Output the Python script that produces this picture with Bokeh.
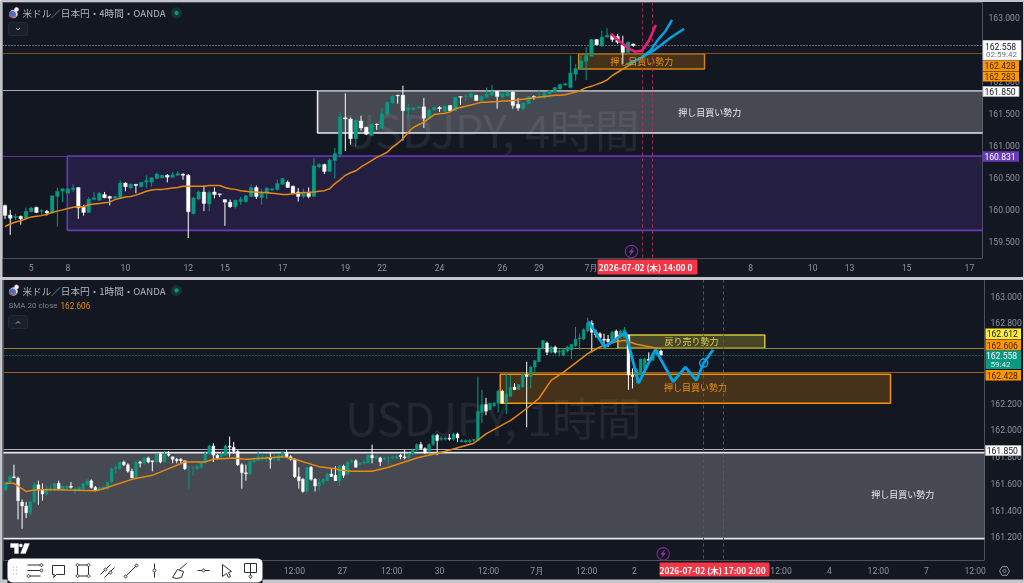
import math
from bokeh.core.properties import value
from bokeh.embed import file_html
from bokeh.layouts import column, row
from bokeh.models import (ColumnDataSource, FixedTicker, Label,
                          NumeralTickFormatter, Range1d)
from bokeh.plotting import figure
from bokeh.resources import INLINE

# ---------- 4H pane data ----------
o4 = [160.06,159.91,159.87,159.89,159.86,159.96,160.03,159.97,159.97,159.94,160.20,160.28,160.25,160.31,160.34,160.03,159.95,160.15,160.14,160.23,
      160.20,160.17,160.18,160.41,160.33,160.39,160.35,160.42,160.42,160.48,160.49,160.53,160.50,160.53,160.55,160.53,159.93,160.16,160.27,160.08,
      160.27,160.24,160.15,160.11,160.04,160.12,160.12,160.20,160.34,160.18,160.24,160.30,160.31,160.39,160.42,160.36,160.27,160.20,160.25,160.20,
      160.66,160.70,160.59,160.76,160.86,161.43,161.41,161.10,161.38,161.28,161.15,161.33,161.26,161.48,161.66,161.78,161.78,161.55,161.56,161.58,
      161.60,161.42,161.55,161.59,161.53,161.62,161.54,161.76,161.76,161.75,161.78,161.70,161.75,161.78,161.84,161.75,161.77,161.83,161.64,161.57,
      161.65,161.76,161.74,161.74,161.80,161.83,161.88,161.94,161.90,162.11,162.19,162.31,162.39,162.65,162.55,162.69,162.72,162.70,162.57,162.45,162.58]
c4 = [159.90,159.86,159.89,159.85,159.97,160.02,159.95,159.98,159.94,160.21,160.28,160.32,160.32,160.33,160.02,159.95,160.16,160.18,160.25,160.18,
      160.17,160.20,160.41,160.35,160.39,160.37,160.42,160.45,160.49,160.55,160.53,160.50,160.54,160.56,160.53,159.96,160.18,160.27,160.09,160.26,
      160.23,160.23,160.11,160.04,160.14,160.15,160.21,160.34,160.20,160.27,160.33,160.32,160.40,160.48,160.34,160.25,160.20,160.25,160.20,160.68,
      160.70,160.59,160.77,160.87,161.44,161.41,161.10,161.39,161.27,161.17,161.33,161.32,161.49,161.67,161.77,161.77,161.54,161.59,161.58,161.60,
      161.42,161.55,161.59,161.57,161.61,161.54,161.75,161.75,161.77,161.81,161.70,161.76,161.80,161.83,161.76,161.81,161.83,161.62,161.58,161.66,
      161.76,161.75,161.76,161.82,161.85,161.90,161.95,161.96,162.13,162.20,162.32,162.40,162.65,162.57,162.69,162.72,162.65,162.61,162.45,162.61,162.558]
h4 = [160.07,159.99,159.93,159.90,160.03,160.04,160.04,160.00,159.99,160.21,160.34,160.33,160.32,160.39,160.34,160.07,160.19,160.27,160.27,160.27,
      160.21,160.21,160.45,160.42,160.40,160.39,160.42,160.53,160.50,160.57,160.54,160.55,160.58,160.60,160.56,160.55,160.19,160.29,160.37,160.29,
      160.34,160.24,160.15,160.15,160.15,160.19,160.22,160.39,160.37,160.32,160.34,160.33,160.46,160.49,160.45,160.37,160.33,160.32,160.34,160.80,
      160.72,160.71,160.79,160.96,161.52,161.81,161.43,161.40,161.46,161.29,161.34,161.34,161.58,161.68,161.78,161.79,161.93,161.65,161.60,161.60,
      161.74,161.57,161.60,161.61,161.63,161.63,161.76,161.76,161.80,161.83,161.79,161.78,161.90,161.94,161.85,161.82,161.84,161.84,161.74,161.67,
      161.77,161.78,161.86,161.83,161.86,161.91,161.96,161.97,162.40,162.27,162.40,162.53,162.66,162.66,162.79,162.83,162.74,162.74,162.71,162.62,162.59]
l4 = [159.85,159.60,159.83,159.76,159.85,159.95,159.94,159.90,159.90,159.93,159.73,160.11,160.25,160.27,159.85,159.90,159.94,160.14,160.13,160.17,
      160.06,160.16,160.16,160.28,160.32,160.25,160.34,160.33,160.35,160.47,160.48,160.42,160.49,160.52,160.46,159.55,159.92,160.14,159.97,159.97,
      160.17,160.19,159.74,160.02,160.01,160.07,160.10,160.19,160.16,160.07,160.16,160.28,160.29,160.38,160.33,160.24,160.12,160.17,160.17,160.19,
      160.64,160.55,160.58,160.48,160.81,160.91,161.01,160.98,161.23,161.16,161.14,161.24,161.25,161.46,161.65,161.65,161.07,161.41,161.54,161.57,
      161.27,161.41,161.54,161.52,161.52,161.53,161.53,161.63,161.69,161.74,161.69,161.68,161.74,161.77,161.57,161.74,161.76,161.57,161.54,161.55,
      161.64,161.71,161.73,161.73,161.78,161.82,161.86,161.93,161.89,162.01,162.18,162.02,162.39,162.56,162.54,162.68,162.61,162.58,162.27,162.44,162.54]
sma4 = [159.73,159.77,159.80,159.82,159.85,159.88,159.89,159.90,159.92,159.95,159.97,159.99,160.01,160.03,160.04,160.04,160.07,160.08,160.09,160.10,
        160.11,160.15,160.17,160.19,160.20,160.22,160.25,160.28,160.30,160.31,160.31,160.32,160.33,160.34,160.36,160.36,160.36,160.36,160.36,160.37,
        160.37,160.37,160.34,160.32,160.31,160.29,160.28,160.27,160.27,160.26,160.26,160.25,160.24,160.23,160.23,160.24,160.25,160.26,160.26,160.27,
        160.28,160.29,160.32,160.40,160.46,160.53,160.57,160.60,160.66,160.71,160.76,160.81,160.85,160.89,160.97,161.03,161.10,161.20,161.28,161.32,
        161.36,161.42,161.48,161.49,161.50,161.52,161.57,161.59,161.61,161.63,161.65,161.67,161.67,161.68,161.68,161.69,161.69,161.70,161.71,161.72,
        161.73,161.74,161.75,161.76,161.77,161.78,161.78,161.79,161.81,161.83,161.86,161.90,161.92,161.95,161.98,162.02,162.09,162.14,162.19,162.24,162.283]
ticks4 = [5,12,23,35,42,53,65,72,83,95,102,112,142.4,154.3,161.3,172.2,184.2]
tick_labels4 = ["5","8","10","12","15","17","19","22","24","26","29","7月","8","10","13","15","17"]
prices4 = [159.5,160.0,160.5,161.0,161.5,162.0,163.0]
pink_x = [115.7,117.6,119.2,120.4,121.7,123.0,124.3]
pink_y = [162.74,162.61,162.505,162.46,162.48,162.635,162.88]
blue_a_x = [118.8,121.4,123.3,124.6,126.2,127.4]
blue_a_y = [162.26,162.36,162.48,162.635,162.79,162.96]
blue_b_x = [121.4,123.9,127.1,129.7]
blue_b_y = [162.36,162.48,162.68,162.82]
cursor4 = [121.7,123.6]

# ---------- 1H pane data: open, high, low, close per bar ----------
ohlc1 = [
(161.55,161.61,161.54,161.61),(161.61,161.66,161.60,161.65),(161.65,161.74,161.64,161.64),(161.64,161.65,161.33,161.47),(161.46,161.48,161.26,161.43),
(161.43,161.46,161.34,161.38),(161.38,161.47,161.36,161.46),(161.46,161.61,161.45,161.59),(161.59,161.62,161.44,161.55),(161.55,161.60,161.47,161.52),
(161.52,161.58,161.51,161.55),(161.55,161.59,161.54,161.56),(161.55,161.60,161.54,161.60),(161.60,161.62,161.55,161.56),(161.55,161.58,161.54,161.58),
(161.56,161.59,161.55,161.58),(161.58,161.61,161.56,161.57),(161.54,161.57,161.52,161.56),(161.55,161.58,161.54,161.57),(161.56,161.60,161.55,161.60),
(161.59,161.63,161.58,161.62),(161.62,161.63,161.56,161.57),(161.57,161.58,161.54,161.55),(161.55,161.57,161.54,161.57),(161.56,161.58,161.55,161.57),
(161.56,161.61,161.55,161.61),(161.61,161.72,161.60,161.71),(161.71,161.74,161.67,161.72),(161.71,161.76,161.70,161.76),(161.76,161.77,161.73,161.74),
(161.74,161.75,161.68,161.69),(161.69,161.71,161.64,161.64),(161.64,161.77,161.64,161.76),(161.76,161.77,161.72,161.75),(161.75,161.80,161.74,161.79),
(161.79,161.80,161.75,161.76),(161.77,161.77,161.69,161.76),(161.76,161.82,161.75,161.82),(161.82,161.83,161.75,161.76),(161.76,161.84,161.76,161.82),
(161.82,161.84,161.80,161.81),(161.80,161.80,161.75,161.78),(161.78,161.79,161.75,161.77),(161.78,161.79,161.75,161.77),(161.77,161.77,161.70,161.71),
(161.72,161.73,161.56,161.72),(161.72,161.73,161.66,161.72),(161.71,161.74,161.70,161.73),(161.72,161.76,161.71,161.76),(161.76,161.84,161.75,161.82),
(161.82,161.89,161.81,161.88),(161.88,161.90,161.76,161.81),(161.81,161.82,161.78,161.79),(161.80,161.84,161.79,161.82),(161.81,161.89,161.81,161.88),
(161.88,161.95,161.80,161.87),(161.87,161.91,161.82,161.84),(161.84,161.85,161.73,161.74),(161.74,161.75,161.56,161.68),(161.68,161.74,161.62,161.67),
(161.67,161.77,161.66,161.77),(161.76,161.80,161.75,161.77),(161.77,161.84,161.77,161.80),(161.79,161.83,161.77,161.79),(161.79,161.81,161.76,161.80),
(161.79,161.83,161.71,161.78),(161.79,161.82,161.77,161.79),(161.77,161.82,161.77,161.81),(161.80,161.84,161.79,161.83),(161.83,161.85,161.79,161.80),
(161.80,161.81,161.77,161.78),(161.78,161.79,161.64,161.65),(161.65,161.72,161.56,161.62),(161.63,161.64,161.53,161.54),(161.54,161.72,161.53,161.72),
(161.72,161.73,161.62,161.63),(161.63,161.64,161.54,161.58),(161.58,161.64,161.54,161.61),(161.61,161.64,161.59,161.63),(161.62,161.68,161.62,161.67),
(161.67,161.71,161.65,161.65),(161.66,161.73,161.62,161.62),(161.62,161.74,161.58,161.73),(161.73,161.74,161.64,161.66),(161.67,161.77,161.66,161.76),
(161.76,161.78,161.75,161.77),(161.77,161.78,161.72,161.72),(161.74,161.76,161.74,161.75),(161.75,161.78,161.74,161.76),(161.75,161.82,161.75,161.81),
(161.81,161.89,161.75,161.79),(161.79,161.81,161.78,161.80),(161.79,161.80,161.73,161.76),(161.78,161.80,161.77,161.79),(161.79,161.80,161.74,161.79),
(161.79,161.80,161.78,161.80),(161.79,161.81,161.78,161.80),(161.81,161.82,161.78,161.80),(161.80,161.85,161.78,161.79),(161.79,161.83,161.78,161.82),
(161.82,161.86,161.81,161.85),(161.85,161.90,161.84,161.89),(161.89,161.91,161.85,161.86),(161.86,161.87,161.82,161.83),(161.84,161.90,161.83,161.89),
(161.89,161.97,161.88,161.96),(161.96,161.97,161.81,161.92),(161.93,161.95,161.92,161.94),(161.93,161.95,161.92,161.94),(161.94,161.97,161.92,161.93),
(161.93,161.98,161.92,161.97),(161.97,161.98,161.91,161.94),(161.91,161.93,161.91,161.92),(161.91,161.93,161.90,161.92),(161.91,161.93,161.90,161.92),
(161.92,161.93,161.91,161.93),(161.92,162.40,161.92,162.14),(162.13,162.30,162.05,162.19),(162.19,162.24,162.11,162.14),(162.15,162.20,162.15,162.20),
(162.18,162.21,162.17,162.20),(162.20,162.30,162.13,162.29),(162.29,162.30,162.20,162.20),(162.21,162.42,162.12,162.27),(162.25,162.41,162.25,162.32),
(162.32,162.35,162.30,162.30),(162.30,162.34,162.30,162.34),(162.32,162.42,162.32,162.42),(162.41,162.51,162.02,162.40),(162.40,162.48,162.31,162.47),
(162.47,162.52,162.43,162.52),(162.51,162.62,162.51,162.61),(162.61,162.67,162.60,162.67),(162.65,162.66,162.56,162.58),(162.58,162.63,162.57,162.62),
(162.62,162.63,162.57,162.58),(162.58,162.61,162.55,162.59),(162.56,162.61,162.55,162.60),(162.59,162.63,162.58,162.62),(162.60,162.64,162.53,162.64),
(162.63,162.77,162.62,162.68),(162.68,162.72,162.60,162.69),(162.68,162.76,162.67,162.75),(162.74,162.84,162.73,162.80),(162.80,162.82,162.58,162.73),
(162.73,162.75,162.69,162.71),(162.72,162.73,162.67,162.69),(162.68,162.72,162.62,162.67),(162.68,162.71,162.62,162.66),(162.67,162.74,162.67,162.73),
(162.74,162.75,162.67,162.68),(162.71,162.75,162.70,162.74),(162.69,162.77,162.69,162.75),(162.71,162.71,162.30,162.41),(162.41,162.46,162.31,162.40),
(162.40,162.46,162.35,162.45),(162.41,162.53,162.41,162.53),(162.46,162.54,162.46,162.53),(162.53,162.58,162.51,162.52),(162.52,162.58,162.52,162.57),
(162.56,162.60,162.55,162.60),(162.59,162.60,162.57,162.558)]
sma1_bar = [0,2,3,5,7,10,15,22,24,26,31,36,40,44,49,51,56,59,64,68,71,77,81,82,85,90,94,101,108,115,118,124,128,131,134,137,143,146,150,152,155,161]
sma1_val = [161.60,161.60,161.58,161.54,161.55,161.555,161.55,161.545,161.56,161.58,161.63,161.66,161.71,161.76,161.76,161.78,161.79,161.78,161.79,161.80,
            161.78,161.725,161.71,161.70,161.69,161.69,161.72,161.79,161.84,161.90,161.97,162.07,162.16,162.235,162.37,162.43,162.57,162.62,162.66,162.67,162.64,162.606]
ticks1 = [70.9,82.7,94.8,106.6,118.6,130.6,142.7,154.5,190.5,202.4,214.4,226.2,238.2]
tick_labels1 = ["12:00","27","12:00","30","12:00","7月","12:00","2","12:00","4","12:00","7","12:00"]
prices1 = [161.2,161.4,161.6,161.8,162.0,162.2,162.8,163.0]
zig_x = [143.2,147.1,152.3,155.5,159.6,164.0,167.0,169.7,171.5,173.8]
zig_y = [162.81,162.62,162.73,162.35,162.60,162.36,162.47,162.37,162.50,162.60]
cursor1 = [171.5,176.4]

BG = "#131722"; GREEN = "#089981"; WHITE = "#ffffff"
CJK = "Noto Sans CJK JP"; NUM = "Roboto"; AXC = "#8f929b"


def pane(h, x0, x1, y0, y1, ml, mr, mt, mb, ticks, labels, prices, xstand):
    p = figure(width=1024, height=h, output_backend="svg", toolbar_location=None, tools="",
               x_range=Range1d(x0, x1), y_range=Range1d(y0, y1), y_axis_location="right",
               min_border_left=ml, min_border_right=mr, min_border_top=mt, min_border_bottom=mb,
               background_fill_color=BG, border_fill_color=BG, outline_line_color=None, margin=0)
    p.grid.visible = False
    for ax in (p.xaxis[0], p.yaxis[0]):
        ax.axis_line_color = None
        ax.major_tick_line_color = None
        ax.minor_tick_line_color = None
        ax.major_tick_out = 0
        ax.minor_tick_out = 0
        ax.major_label_text_color = AXC
        ax.major_label_text_font = NUM
        ax.major_label_text_font_size = "8.6px"
    p.xaxis[0].major_label_standoff = xstand
    p.yaxis[0].major_label_standoff = 6
    p.xaxis[0].ticker = FixedTicker(ticks=ticks)
    p.xaxis[0].major_label_overrides = {t: s for t, s in zip(ticks, labels)}
    p.yaxis[0].ticker = FixedTicker(ticks=prices)
    p.yaxis[0].formatter = NumeralTickFormatter(format="0.000")
    return p


def candles(p, o, h, l, c, w):
    xs = list(range(len(o)))
    src = ColumnDataSource(dict(x=xs, o=o, h=h, l=l, c=c,
                                color=[GREEN if b >= a else WHITE for a, b in zip(o, c)],
                                top=[max(a, b) for a, b in zip(o, c)], bot=[min(a, b) for a, b in zip(o, c)]))
    p.segment("x", "h", "x", "l", color="color", line_width=1, source=src)
    p.vbar("x", top="top", bottom="bot", width=w, fill_color="color", line_color="color", line_width=0.3, source=src)


def water(p, x, y, s):
    p.add_layout(Label(x=x, y=y, x_units="canvas", y_units="canvas", text=s, text_font=CJK, text_font_size="45px",
                       text_color="#ffffff", text_alpha=0.07, text_align="center", text_baseline="middle", level="underlay"))


# ---------- page furniture: one transparent sheet, in page pixels, over both panes ----------
sheet = figure(width=1024, height=583, output_backend="svg", toolbar_location=None, tools="",
               x_range=Range1d(0, 1024), y_range=Range1d(583, 0), x_axis_location=None, y_axis_location=None,
               min_border=0, background_fill_alpha=0, border_fill_alpha=0, outline_line_color=None, margin=0)
sheet.grid.visible = False
P4 = 0
P1 = 278


def box(off, l, t, r, b, fill, line=None, lw=1):
    sheet.quad(left=[l], right=[r], top=[t + off], bottom=[b + off], fill_color=fill, line_color=line, line_width=lw)


def rbox(off, l, t, r, b, rad, fill, line=None, lw=1):
    xs, ys = [], []
    for cx, cy, a0 in ((r - rad, t + rad, -90), (r - rad, b - rad, 0), (l + rad, b - rad, 90), (l + rad, t + rad, 180)):
        for k in range(6):
            a = math.radians(a0 + 18 * k)
            xs.append(cx + rad * math.cos(a))
            ys.append(cy + off + rad * math.sin(a))
    sheet.patch(xs, ys, fill_color=fill, line_color=line, line_width=lw)


def txt(off, x, y, s, size, color, align="left", font=NUM, style="normal"):
    sheet.text(x=[x], y=[y + off], text=[s], text_font=value(font), text_font_size=f"{size}px", text_color=color,
               text_align=align, text_baseline="middle", text_font_style=style)


def poly(off, xs, ys, line="#2a2e39", lw=1.0, fill=None):
    sheet.patch(xs + xs[:1], [y + off for y in ys + ys[:1]], fill_color=fill or "#000000", fill_alpha=1 if fill else 0,
                line_color=line, line_width=lw)


def stroke(off, xs, ys, line="#2a2e39", lw=1.0):
    sheet.line(xs, [y + off for y in ys], line_color=line, line_width=lw)


def circ(off, cx, cy, r, line="#2a2e39", lw=1.0, fill=None):
    a = [2 * math.pi * k / 20 for k in range(20)]
    poly(off, [cx + r * math.cos(t) for t in a], [cy + r * math.sin(t) for t in a], line, lw, fill)


def header(off, y, title):
    circ(off, 13, y + 1, 4, "#e8eaf0", 0.3, "#e8eaf0")
    circ(off, 12, y + 1.5, 3.4, "#3f6fc4", 0.3, "#3f6fc4")
    box(off, 9, y + 2.5, 16, y + 4, "#e0505a")
    circ(off, 16, y - 3.5, 2.3, "#ef5350", 0.3, "#f4f4f6")
    txt(off, 22, y, title, 9.6, "#b2b5be", font=CJK)
    circ(off, 176, y, 5.5, "#12332f", 0.3, "#12332f")
    circ(off, 176, y, 2, GREEN, 0.3, GREEN)


def time_tag(off, l, t, r, b, s):
    rbox(off, l, t, r, b, 1.5, "#f23645")
    txt(off, (l + r) / 2, (t + b) / 2, s, 8.4, "#ffffff", "center", CJK, "bold")


def tag(off, l, t, r, b, s, fill, color, border=None):
    box(off, l, t, r, b, fill, border, 0.8)
    txt(off, (l + r) / 2 - 1, (t + b) / 2, s, 8.6, color, "center")


def bolt(off, cx, cy):
    circ(off, cx, cy, 6.2, "#7b2a8f", 1.1)
    poly(off, [cx + 1.5, cx - 2.5, cx - 0.3, cx - 1.5, cx + 2.5, cx + 0.3],
         [cy - 4, cy + 0.7, cy + 0.7, cy + 4, cy - 0.7, cy - 0.7], "#8e3aa5", 0.3, "#8e3aa5")


# ---------- 4H pane ----------
p4 = pane(278, -0.48, 186.7, 159.23, 163.23, 2, 42, 2, 20, ticks4, tick_labels4, prices4, 4)
water(p4, 491, 128, "USDJPY, 4時間")
p4.quad(left=[59.7], right=[190], top=[161.85], bottom=[161.19], fill_color="#ffffff", fill_alpha=0.22, line_color="#e8e8ea", line_width=1.6)
p4.quad(left=[11.9], right=[190], top=[160.831], bottom=[159.67], fill_color="#673ab7", fill_alpha=0.2, line_color="#673ab7", line_width=1.6)
p4.quad(left=[109.55], right=[133.6], top=[162.428], bottom=[162.19], fill_color="#ff9800", fill_alpha=0.22, line_color="#d98410", line_width=1.4)
p4.hspan(y=[161.85], line_color="#a9abb0", line_width=1)
p4.hspan(y=[160.831], line_color="#5e34a8", line_width=1)
p4.hspan(y=[162.428], line_color="#96601e", line_width=0.8)
p4.hspan(y=[162.558], line_color="#a6b8bc", line_width=1, line_dash="1 2")
candles(p4, o4, h4, l4, c4, 0.7)
p4.line(list(range(len(sma4))), sma4, line_color="#e8890f", line_width=1.5)
p4.vspan(x=cursor4, line_color="#a8324e", line_width=1, line_dash="3 3")
p4.line(pink_x, pink_y, line_color="#e91e7b", line_width=2.6)
p4.line(blue_a_x, blue_a_y, line_color="#04a4e4", line_width=2.4)
p4.line(blue_b_x, blue_b_y, line_color="#04a4e4", line_width=2.4)
p4.text(x=[121.6], y=[162.31], text=["押し目買い勢力"], text_color="#e8920f", text_font=value(CJK), text_font_size="9px", text_align="center", text_baseline="middle")
p4.text(x=[134.6], y=[161.51], text=["押し目買い勢力"], text_color="#e6e7ea", text_font=value(CJK), text_font_size="9px", text_align="center", text_baseline="middle")
header(P4, 12.5, "米ドル／日本円・4時間・OANDA")
rbox(P4, 8, 22, 27, 35, 2, "#1b1f2b", "#2a2e39", 0.8)
stroke(P4, [15.5, 17.5, 19.5], [27.5, 29.5, 27.5], "#b2b5be", 1)
bolt(P4, 631, 251)
time_tag(P4, 597, 259, 697, 274, "2026-07-02 (木)  14:00  0")
box(P4, 982.5, 40, 1020.5, 59.5, "#ffffff", "#d0d0d0", 0.8)
txt(P4, 1000, 45.5, "162.558", 8.6, "#131722", "center")
txt(P4, 1001, 54, "02:59:42", 8, "#6f7380", "center")
tag(P4, 982.5, 60, 1018.5, 70.5, "162.428", "#ff9800", "#3a2400")
tag(P4, 982.5, 71, 1018.5, 81, "162.283", "#ff9800", "#3a2400")
tag(P4, 982.5, 86, 1018.5, 96, "161.850", "#ffffff", "#131722", "#b0b2b8")
tag(P4, 982.5, 150.7, 1018.5, 161.3, "160.831", "#673ab7", "#ffffff")

# ---------- 1H pane ----------
p1 = pane(305, -0.57, 240.5, 161.023, 163.125, 3, 40, 1, 23, ticks1, tick_labels1, prices1, 5)
water(p1, 493, 138, "USDJPY, 1時間")
p1.quad(left=[-5], right=[245], top=[161.83], bottom=[161.187], fill_color="#ffffff", fill_alpha=0.22, line_color="#e8e8ea", line_width=1.6)
p1.quad(left=[121.5], right=[217.4], top=[162.416], bottom=[162.2], fill_color="#ff9800", fill_alpha=0.22, line_color="#f59300", line_width=1.5)
p1.quad(left=[150.4], right=[186.5], top=[162.71], bottom=[162.61], fill_color="#ffeb3b", fill_alpha=0.22, line_color="#d4c43a", line_width=1.5)
p1.hspan(y=[161.85], line_color="#b0b2b8", line_width=1)
p1.hspan(y=[162.428], line_color="#a8661a", line_width=0.9)
p1.hspan(y=[162.608], line_color="#8f8a2c", line_width=1.2)
p1.hspan(y=[162.558], line_color="#12a18c", line_width=1, line_dash="1 2")
candles(p1, [b[0] for b in ohlc1], [b[1] for b in ohlc1], [b[2] for b in ohlc1], [b[3] for b in ohlc1], 0.72)
p1.line(sma1_bar, sma1_val, line_color="#e8890f", line_width=1.5)
p1.vspan(x=cursor1, line_color="#a8324e", line_width=1, line_dash="3 3")
p1.line(zig_x, zig_y, line_color="#04a4e4", line_width=2.8)
p1.scatter([171.5], [162.50], size=8, fill_alpha=0, line_color="#04a4e4", line_width=1.6)
p1.text(x=[168.5], y=[162.66], text=["戻り売り勢力"], text_color="#e0d24a", text_font=value(CJK), text_font_size="9px", text_align="center", text_baseline="middle")
p1.text(x=[169.5], y=[162.315], text=["押し目買い勢力"], text_color="#e8920f", text_font=value(CJK), text_font_size="9px", text_align="center", text_baseline="middle")
p1.text(x=[220.4], y=[161.517], text=["押し目買い勢力"], text_color="#e6e7ea", text_font=value(CJK), text_font_size="9px", text_align="center", text_baseline="middle")
header(P1, 12, "米ドル／日本円・1時間・OANDA")
txt(P1, 8, 27, "SMA 20 close", 8, "#7d818c")
txt(P1, 60, 27, "162.606", 8.2, "#e8890f")
rbox(P1, 8, 37, 27, 50, 2, "#1b1f2b", "#2a2e39", 0.8)
stroke(P1, [15.5, 17.5, 19.5], [45, 43, 45], "#b2b5be", 1)
bolt(P1, 662.7, 275.3)
time_tag(P1, 659, 284, 769, 298, "2026-07-02 (木)  17:00  2:00")
tag(P1, 985, 50, 1020.5, 60.5, "162.612", "#ffeb3b", "#131722")
tag(P1, 985, 61, 1020.5, 72, "162.606", "#ff9800", "#3a2400")
box(P1, 985, 72, 1020.5, 90.5, GREEN)
txt(P1, 1001, 77, "162.558", 8.6, "#ffffff", "center")
txt(P1, 990, 86, "59:42", 8, "#d8f0ea")
tag(P1, 985, 91.5, 1020.5, 102, "162.428", "#ff9800", "#3a2400")
tag(P1, 985, 167, 1020.5, 177, "161.850", "#ffffff", "#131722", "#b0b2b8")
# TradingView mark
poly(P1, [10, 18, 18, 14, 14, 10], [265, 265, 275, 275, 269, 269], WHITE, 0.3, WHITE)
circ(P1, 20.3, 267, 1.6, WHITE, 0.3, WHITE)
poly(P1, [24, 29, 25, 20], [265, 265, 275, 275], WHITE, 0.3, WHITE)
# drawing toolbar
rbox(P1, 7, 280, 262, 304, 5, "#ffffff")
for dx in (13, 16):
    for dy in (288.5, 292, 295.5):
        circ(P1, dx, dy, 0.5, "#b8bbc3", 0.4, "#b8bbc3")
D = "#2a2e39"
for yy in (286.5, 292, 297.5):
    stroke(P1, [27, 40], [yy, yy], D, 1)
circ(P1, 41, 286.5, 1.4, D, 1, "#ffffff"); circ(P1, 41, 292, 1.4, D, 1, "#ffffff"); circ(P1, 28, 297.5, 1.4, D, 1, "#ffffff")
poly(P1, [52, 64, 64, 56, 53, 54, 52], [287, 287, 296, 296, 299, 296, 296], D, 1)
poly(P1, [77, 88, 88, 77], [286.5, 286.5, 297.5, 297.5], D, 1)
for cx, cy in ((77, 286.5), (88, 286.5), (77, 297.5), (88, 297.5)):
    circ(P1, cx, cy, 1.4, D, 1, "#ffffff")
stroke(P1, [100, 110], [296, 286], D, 1); stroke(P1, [104, 114], [299, 289], D, 1)
circ(P1, 105, 291, 1.4, D, 1, "#ffffff"); circ(P1, 110, 294, 1.4, D, 1, "#ffffff")
stroke(P1, [125, 136], [298, 287], D, 1)
circ(P1, 125, 298, 1.4, D, 1, "#ffffff"); circ(P1, 136, 287, 1.4, D, 1, "#ffffff")
stroke(P1, [154, 154], [285, 299], D, 1); circ(P1, 154, 292, 1.5, D, 1, "#ffffff")
poly(P1, [172, 177, 183, 181, 176, 172], [299, 291, 293, 299, 300, 299], D, 1)
stroke(P1, [179, 186], [291, 285], D, 1)
stroke(P1, [197, 209], [292, 292], D, 1); circ(P1, 203, 292, 1.5, D, 1, "#ffffff")
poly(P1, [222, 222, 226, 228, 230, 228, 231], [286, 298, 295, 299, 298, 294, 293], D, 1)
poly(P1, [244, 256, 256, 244], [285, 285, 294, 294], D, 1)
stroke(P1, [250, 250], [285, 300], D, 1); circ(P1, 250, 298, 1.4, D, 1, "#ffffff")
# settings gear
a6 = [math.pi * k / 3 for k in range(6)]
poly(P1, [1004 + 5 * math.cos(t) for t in a6], [292.5 + 5 * math.sin(t) for t in a6], AXC, 1)
circ(P1, 1004, 292.5, 1.6, AXC, 1)
# window edges and the line between panes
EDGE = "#c4c6cb"
box(P4, 0, 0, 1024, 1.5, EDGE)
box(P4, 0, 0, 2, 583, EDGE)
box(P4, 1022.5, 0, 1024, 583, EDGE)
box(P4, 0, 276.5, 1024, 279.5, EDGE)
box(P4, 0, 579, 7, 583, EDGE); box(P4, 262, 579, 1024, 583, EDGE)

root = column(row(p4, margin=0), row(p1, margin=0), row(sheet, margin=(-583, 0, 0, 0)), spacing=0, margin=0,
              styles={"position": "fixed", "left": "0px", "top": "0px"})
open("out.html", "w").write(file_html(root, INLINE))
